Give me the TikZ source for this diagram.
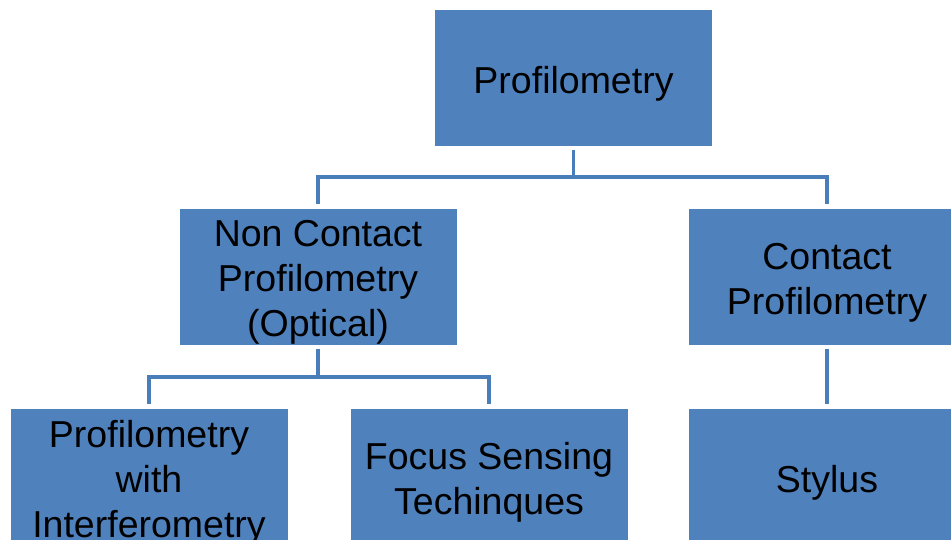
\documentclass[tikz,border=0pt]{standalone}
\usepackage{fontspec}
\setmainfont{Liberation Sans}
\definecolor{boxblue}{HTML}{4F81BD}
\definecolor{lineblue}{HTML}{4A7EBB}
\begin{document}
\begin{tikzpicture}[x=1pt,y=-1pt,
  box/.style={fill=boxblue, draw=none, minimum width=277pt, minimum height=136pt,
    inner sep=0pt},
  lbl/.style={align=center, font=\fontsize{37.5}{45}\selectfont, text=black,
    inner sep=0pt, yshift=-6pt},
  conn/.style={draw=lineblue, line width=3.5pt}]
\useasboundingbox (0,0) rectangle (951,539);
\clip (0,0) rectangle (951,539);
\fill[white] (0,0) rectangle (951,539);
\node[box, label={[lbl]center:Profilometry}] (top) at (573.5,78) {};
\node[box, label={[lbl]center:Non Contact\\Profilometry\\(Optical)}] (nc) at (318,276.5) {};
\node[box, label={[lbl]center:Contact\\Profilometry}] (cp) at (827,276.5) {};
\node[box, label={[lbl]center:Profilometry\\with\\Interferometry}] (pi) at (149,476.5) {};
\node[box, label={[lbl]center:Focus Sensing\\Techinques}] (fs) at (489,476.5) {};
\node[box, label={[lbl]center:Stylus}] (st) at (827,476.5) {};
\coordinate (bus1) at (573,177);
\coordinate (bus2) at (320,377);
\draw[conn] ([yshift=-4pt]top.south) -- (top.south |- bus1) -| ([yshift=4pt]nc.north);
\draw[conn] (top.south |- bus1) -| ([yshift=4pt]cp.north);
\draw[conn] ([yshift=-4pt]nc.south) -- (nc.south |- bus2) -| ([yshift=4pt]pi.north);
\draw[conn] (nc.south |- bus2) -| ([yshift=4pt]fs.north);
\draw[conn] ([yshift=-4pt]cp.south) -- ([yshift=4pt]st.north);
\end{tikzpicture}
\end{document}
